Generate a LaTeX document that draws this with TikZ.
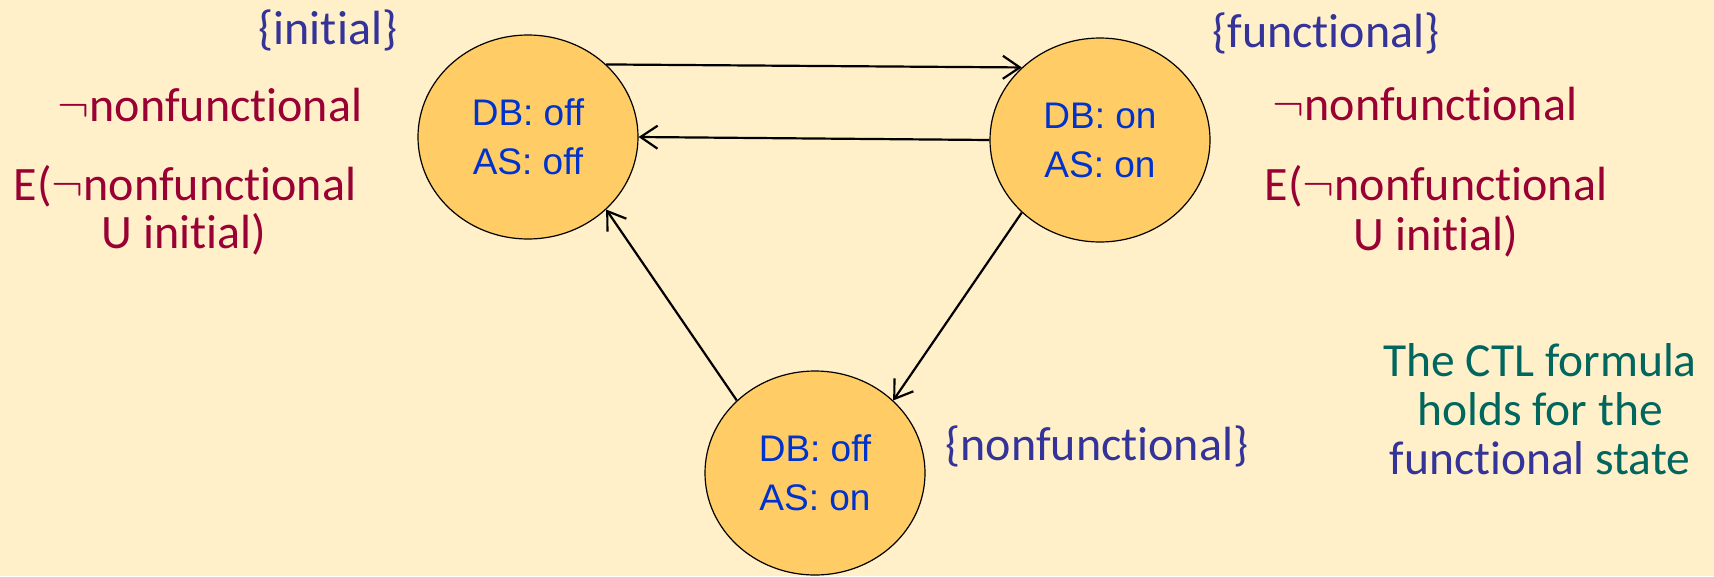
\documentclass[tikz,border=0pt]{standalone}
\usepackage{fix-cm}
\usepackage{fontspec}
\setmainfont{Carlito}[Ligatures={NoCommon}]
\newfontfamily\statefont{Liberation Sans}
\usetikzlibrary{arrows.meta,shapes.geometric}

\definecolor{paper}{HTML}{FFF0C9}
\definecolor{statefill}{HTML}{FFCC66}
\definecolor{stateblue}{HTML}{0033CC}
\definecolor{propblue}{HTML}{333399}
\definecolor{formred}{HTML}{990033}
\definecolor{noteteal}{HTML}{00665E}

\begin{document}
\begin{tikzpicture}[x=1pt,y=-1pt,
  state/.style={ellipse, draw=black, line width=1.2pt, fill=statefill,
    minimum width=220pt, minimum height=204pt, inner sep=0pt, align=center,
    text=stateblue, font=\statefont\fontsize{37}{49}\selectfont},
  prop/.style={anchor=base, inner sep=0pt, text=propblue,
    font=\fontsize{48}{48}\selectfont},
  formula/.style={prop, text=formred},
  note/.style={prop, text=noteteal, font=\fontsize{47.5}{48}\selectfont},
  trans/.style={draw=black, line width=2.2pt,
    -{Straight Barb[length=17pt,width=23pt]}}
]
% canvas
\fill[paper] (0,0) rectangle (1714,576);
\useasboundingbox (0,0) rectangle (1714,576);

% states
\node[state] (A) at (528,137) {DB: off\\AS: off};
\node[state] (B) at (1100,140) {DB: on\\AS: on};
\node[state] (C) at (815,473) {DB: off\\AS: on};

% transitions
\draw[trans] (A.north east) -- (B.north west);
\draw[trans] (B.west) -- (A.east);
\draw[trans] (B.south west) -- (C.north east);
\draw[trans] (C.north west) -- (A.south east);

% labels of the initial state
\node[prop] (initLbl) at (328,44) {\{initial\}};
\node[formula] (negL) at (210,121) {$\neg$nonfunctional};
\node[formula] (untilL1) at (185,200) {E($\neg$nonfunctional};
\node[formula] (untilL2) at (184,248) {U initial)};

% labels of the functional state
\node[prop] (funcLbl) at (1326,47) {\{functional\}};
\node[formula] (negR) at (1425,120) {$\neg$nonfunctional};
\node[formula] (untilR1) at (1436,200) {E($\neg$nonfunctional};
\node[formula] (untilR2) at (1436,250) {U initial)};

% label of the nonfunctional state
\node[prop] (nonfLbl) at (1097,460) {\{nonfunctional\}};

% remark
\node[note] (note1) at (1540,376) {The CTL formula};
\node[note] (note2) at (1540,425) {holds for the};
\node[note] (note3) at (1540,474) {\textcolor{propblue}{functional} state};
\end{tikzpicture}
\end{document}
